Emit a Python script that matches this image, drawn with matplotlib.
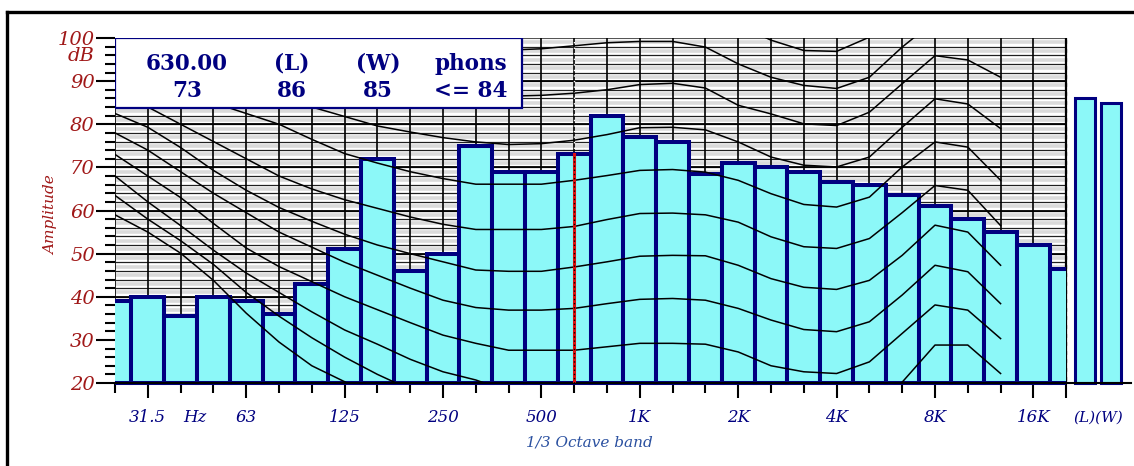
import numpy as np
import matplotlib
matplotlib.use('Agg')
import matplotlib.pyplot as plt
from matplotlib.patches import Rectangle
from matplotlib.lines import Line2D

# 1/3 octave band levels (dB), 25 Hz .. 20 kHz
band_levels = [39, 40, 35.5, 40, 39, 36, 43, 51, 72, 46, 50, 75, 69, 69, 73, 82,
               77, 76, 68.5, 71, 70, 69, 66.5, 66, 63.5, 61, 58, 55, 52, 46.5]
total_labels = ['(L)', '(W)']
total_levels = [86, 85]

tick_labels = {1: '31.5', 4: '63', 7: '125', 10: '250', 13: '500', 16: '1K',
               19: '2K', 22: '4K', 25: '8K', 28: '16K'}

# equal loudness contours, 25 Hz .. 12.5 kHz (None = off the chart)
N = None
p0 = [59, 55, 50.1, 43.8, 36.2, 29.5, 24, 20.3, 16, N, N, N, N, N, N, N, N, N, N, N, N, N, N, N,
      N, N, N, N]
p10 = [63.5, 58, 53, 47.5, 41, 35.5, 30.5, 26, 22, 18.5, N, N, N, N, N, N, N, N, N, N, N, N, N, N,
       N, N, N, N]
p20 = [68, 62, 56.5, 50.8, 45.5, 41, 36.5, 32.3, 29, 25.5, 22.6, 20.7, 18, N, N, N, N, N, N, N, N,
       N, N, N, 20.2, 28.8, 28.8, 22.2]
p30 = [73, 68, 63, 57, 51.3, 47, 43.5, 40, 37, 34, 31.1, 29.2, 27.6, 27.6, 27.6, 28.4, 29.2, 29.2,
       29.0, 27.2, 24.0, 22.6, 22.2, 24.9, 31.5, 38.1, 36.9, 30.3]
p40 = [78, 74, 69, 64, 59.5, 55, 51.5, 48, 45, 42, 39.2, 37.5, 36.9, 36.9, 37.3, 38.4, 39.4, 39.6,
       39.2, 37.3, 34.6, 32.4, 31.9, 34.2, 40.4, 47.3, 45.8, 38.4]
p50 = [82.5, 79.3, 74.6, 69.3, 64.7, 60.7, 57.5, 54.5, 52, 50, 48.1, 46.2, 45.9, 45.9, 46.9, 48.1,
       49.4, 49.6, 49.5, 47.3, 44.2, 42.2, 41.7, 43.8, 49.6, 56.6, 55.0, 47.3]
p60 = [87, 84, 80, 76, 72, 68, 65, 62.5, 60.5, 58.5, 56.8, 55.6, 55.6, 55.6, 56.3, 57.9, 59.3, 59.4,
       59.0, 57.3, 53.9, 51.6, 51.2, 53.5, 59.5, 65.8, 64.7, 56.5]
p70 = [92, 89.5, 87, 85, 82.5, 80, 76.5, 73.2, 71, 69, 67.4, 66.1, 66.1, 66.1, 67.0, 68.1, 69.3,
       69.5, 68.9, 67.0, 63.9, 61.4, 60.8, 63.1, 70.1, 75.9, 74.7, 67.0]
p80 = [97, 94, 91.5, 89, 88, 86.5, 84, 81.8, 79.6, 78.2, 76.9, 75.9, 75.3, 75.5, 76.3, 77.6, 79.2,
       79.3, 78.7, 75.9, 72.4, 70.5, 70.1, 72.4, 79.3, 85.9, 84.7, 79.0]
p90 = [102, 100, 98, 96, 95, 93, 91, 89.5, 88.5, 88, 87.5, 86.8, 86.5, 86.7, 87.2, 88.0, 89.2, 89.5,
       88.4, 84.4, 82.4, 80.1, 79.7, 82.8, 89.4, 95.9, 94.9, 90.9]
p100 = [N, N, N, N, N, N, N, N, N, N, 97, 97, 97.2, 97.5, 98.2, 98.9, 99.2, 99.2,
        97.9, 94.0, 90.9, 89.0, 88.3, 90.9, 97.9, 104, 103, 101]
p110 = [N, N, N, N, N, N, N, N, N, N, N, N, N, N, N, N, N, N,
        106, 103, 99.5, 97.1, 96.9, 100.2, 108, N, N, N]
contours = [p0, p10, p20, p30, p40, p50, p60, p70, p80, p90, p100, p110]

cursor_band = 14
info_rows = [('630.00', '73'), ('(L)', '86'), ('(W)', '85'), ('phons', '<= 84')]

navy = '#000080'
dred = '#a01818'
cyan = '#8cf8f8'

fig = plt.figure(figsize=(11.34, 4.66), dpi=100)
W, H = 1134, 466
px = 32.8  # pixels per band
x_end = (1131 - 115) / px
ax = fig.add_axes([115 / W, (H - 383) / H, (1131 - 115) / W, (383 - 38) / H])
ax.set_xlim(0, x_end)
ax.set_ylim(20, 100)
for s in ['top', 'right', 'left']:
    ax.spines[s].set_visible(False)
ax.spines['bottom'].set_linewidth(1.5)

nb = len(band_levels)
xr = nb - 1
# grid
for y in np.arange(20, 100, 2):
    ax.plot([0, xr], [y + 1, y + 1], color='#dadada', lw=2.6, zorder=0.5)
ax.hlines(np.arange(22, 100, 2), 0, xr, color='#202020', lw=0.9, zorder=1)
ax.hlines(np.arange(30, 100, 10), 0, xr, color='black', lw=1.3, zorder=1)
ax.hlines(100, 0, xr, color='#555555', lw=1.5, zorder=1)
ax.vlines(np.arange(nb), 20, 100, color='black', lw=1.2, zorder=1)
ax.vlines(xr, 20, 100, color='black', lw=1.6, zorder=1)

bar_clip = Rectangle((0, 10), xr, 95, transform=ax.transData)
line_clip = Rectangle((0, 20), xr, 80, transform=ax.transData)
bars = ax.bar(np.arange(nb), np.array(band_levels) - 20, bottom=20, width=1.0,
              color=cyan, edgecolor=navy, linewidth=2.9, zorder=2)
for b in bars:
    b.set_clip_path(bar_clip)

for c in contours:
    yv = np.array([np.nan if v is None else v for v in c], dtype=float)
    ln, = ax.plot(np.arange(len(yv)), yv, color='black', lw=1.1, zorder=3)
    ln.set_clip_path(line_clip)

# cursor
top = band_levels[cursor_band]
ax.plot([cursor_band, cursor_band], [20, top], color='#dd1111', lw=2.2, zorder=4)
ax.plot([cursor_band, cursor_band], [20, top], color='black', lw=1.0, ls=(0, (1, 2)), zorder=4)
ax.plot([cursor_band, cursor_band], [top, 100], color='white', lw=1.0, ls=(0, (1, 3)), zorder=1.5)

# (L) (W) bars
lx = [29.57, 30.38]
ax.bar(lx, np.array(total_levels) - 20, bottom=20, width=0.61, color=cyan,
       edgecolor=navy, linewidth=2.2, zorder=2, clip_on=False)

# info box
box_r = (522 - 115) / px
box_b = 20 + (383 - 108) / 4.3125
ax.add_patch(Rectangle((0, box_b), box_r, 100 - box_b, facecolor='white',
                       edgecolor=navy, lw=1.6, zorder=6))
info_x = [(187 - 115) / px, (292 - 115) / px, (378 - 115) / px, (471 - 115) / px]
for xx, (a, b) in zip(info_x, info_rows):
    ax.text(xx, 94.0, a, ha='center', va='center', fontsize=15.5, fontweight='bold',
            family='DejaVu Serif', color=navy, zorder=7)
    ax.text(xx, 87.7, b, ha='center', va='center', fontsize=15.5, fontweight='bold',
            family='DejaVu Serif', color=navy, zorder=7)

# y ticks
ax.set_yticks(np.arange(20, 101, 10))
ax.set_yticks(np.arange(20, 101, 2), minor=True)
ax.tick_params(axis='y', which='major', length=14, width=1.5, pad=0.5,
               labelcolor=dred, labelsize=14)
ax.tick_params(axis='y', which='minor', length=7, width=1.5)
for t in ax.get_yticklabels():
    t.set_fontfamily('DejaVu Serif')
    t.set_fontstyle('italic')
ax.text(-0.62, 95.8, 'dB', ha='right', va='center', fontsize=14, color=dred,
        family='DejaVu Serif', style='italic', clip_on=False)
ax.text(-1.95, 59, 'Amplitude', rotation=90, ha='center', va='center', fontsize=11,
        color=dred, family='DejaVu Serif', style='italic')

# x ticks
ax.set_xticks(list(tick_labels) + [29])
ax.set_xticklabels([])
ax.set_xticks([i for i in range(nb) if i not in tick_labels], minor=True)
ax.tick_params(axis='x', which='major', length=11, width=1.5)
ax.tick_params(axis='x', which='minor', length=7, width=1.5)
ylab = 20 - 35 / 4.3125
for i, lab in tick_labels.items():
    ax.text(i, ylab, lab, ha='center', va='center', fontsize=12, color=navy,
            family='DejaVu Serif', style='italic', clip_on=False)
ax.text(2.45, ylab, 'Hz', ha='center', va='center', fontsize=12, color=navy,
        family='DejaVu Serif', style='italic', clip_on=False)
ax.text(29.97, ylab, '(L)(W)', ha='center', va='center', fontsize=11, color=navy,
        family='DejaVu Serif', style='italic', clip_on=False)
ax.text((589 - 115) / px, 20 - 60 / 4.3125, '1/3 Octave band', ha='center', va='center',
        fontsize=11, color='#2a50a0', family='DejaVu Serif', style='italic', clip_on=False)

# outer frame
fig.add_artist(Line2D([7 / W, 1], [1 - 11.5 / H, 1 - 11.5 / H], color='black', lw=2.4))
fig.add_artist(Line2D([7 / W, 7 / W], [0, 1 - 11.5 / H], color='black', lw=2.4))

fig.savefig('out.png', dpi=100)
